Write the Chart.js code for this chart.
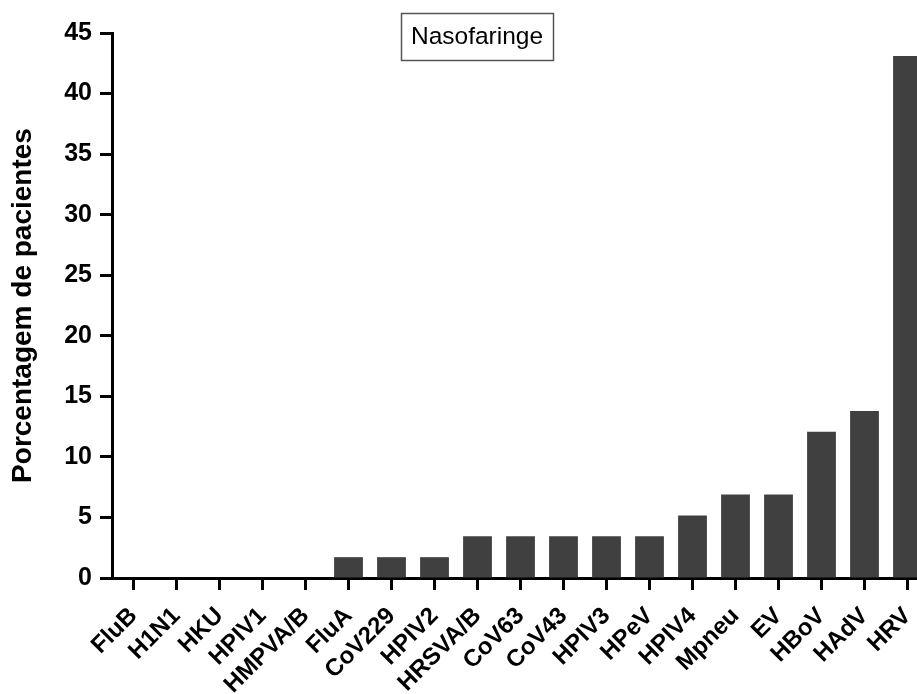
<!DOCTYPE html>
<html>
<head>
<meta charset="utf-8">
<script src="https://cdn.jsdelivr.net/npm/chart.js@4/dist/chart.umd.min.js"></script>
<style>
  html, body { margin: 0; padding: 0; background: #fff; overflow: hidden; }
  #wrap { width: 917px; height: 694px; overflow: hidden; }
</style>
</head>
<body>
<div id="wrap">
  <canvas id="chartNaso" width="970" height="694"></canvas>
</div>
<script>
const categories = ["FluB", "H1N1", "HKU", "HPIV1", "HMPVA/B", "FluA", "CoV229", "HPIV2",
  "HRSVA/B", "CoV63", "CoV43", "HPIV3", "HPeV", "HPIV4", "Mpneu", "EV", "HBoV", "HAdV", "HRV"];
const percentages = [0, 0, 0, 0, 0, 1.72, 1.72, 1.72, 3.45, 3.45, 3.45, 3.45, 3.45,
  5.17, 6.9, 6.9, 12.07, 13.79, 43.1];
const yTicks = [0, 5, 10, 15, 20, 25, 30, 35, 40, 45];
const panelTitle = "Nasofaringe";
const yTitle = "Porcentagem de pacientes";

const FONT = "'Liberation Sans', Arial, Helvetica, sans-serif";

// boxed title drawn over the plot, like the original figure
const boxTitle = {
  id: 'boxTitle',
  afterDraw(chart) {
    const ctx = chart.ctx;
    ctx.save();
    ctx.font = "24.5px " + FONT;
    ctx.fillStyle = "#000";
    ctx.textAlign = "center";
    ctx.textBaseline = "middle";
    ctx.fillText(panelTitle, 477, 37);
    ctx.strokeStyle = "#555";
    ctx.lineWidth = 1.5;
    ctx.strokeRect(401.5, 13.5, 152, 47);
    ctx.restore();
  }
};

const ctx = document.getElementById('chartNaso').getContext('2d');
const chart = new Chart(ctx, {
  type: 'bar',
  data: {
    labels: categories,
    datasets: [{
      label: panelTitle,
      data: percentages,
      backgroundColor: '#404040',
      borderWidth: 0,
      barPercentage: 0.67,
      categoryPercentage: 1.0
    }]
  },
  options: {
    responsive: false,
    animation: false,
    // canvas is wider than the window: the last bar is cut at the right edge
    layout: { padding: { top: 33, right: 41, left: 0, bottom: 0 } },
    plugins: { legend: { display: false }, tooltip: { enabled: false } },
    scales: {
      x: {
        offset: true,
        grid: { offset: false, drawOnChartArea: false, drawTicks: true, tickLength: 12, tickWidth: 3, tickColor: '#000' },
        border: { display: true, color: '#000', width: 3 },
        ticks: {
          autoSkip: false, maxRotation: 45, minRotation: 45, padding: 12,
          color: '#000', font: { family: FONT, size: 24, weight: 'bold' }
        },
        afterFit: (scale) => { scale.height = 116; }
      },
      y: {
        min: 0, max: 45,
        afterBuildTicks: (scale) => { scale.ticks = yTicks.map(v => ({ value: v })); },
        grid: { drawOnChartArea: false, drawTicks: true, tickLength: 12, tickWidth: 3, tickColor: '#000' },
        border: { display: true, color: '#000', width: 3 },
        ticks: { padding: 8, color: '#000', font: { family: FONT, size: 25, weight: 'bold' } },
        title: {
          display: true, text: yTitle, color: '#000',
          padding: { top: 6, bottom: 0 },
          font: { family: FONT, size: 28, weight: 'bold' }
        },
        afterFit: (scale) => { scale.width = 112; }
      }
    }
  },
  plugins: [boxTitle]
});
</script>
</body>
</html>
